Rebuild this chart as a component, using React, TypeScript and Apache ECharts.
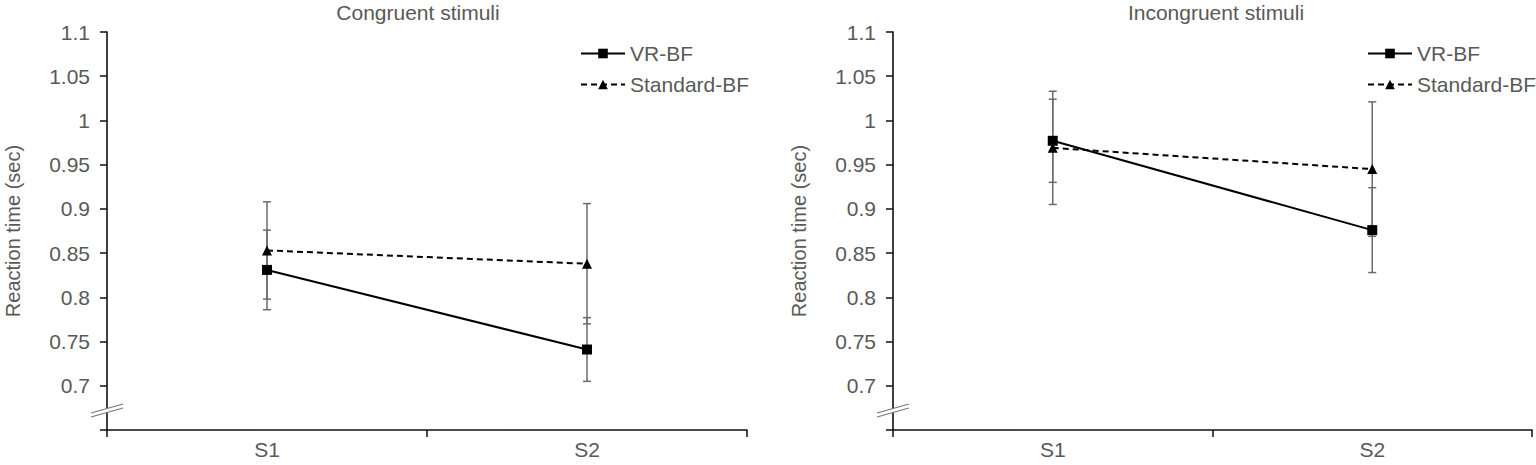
import React, { useEffect, useRef } from "react";
import * as echarts from "echarts";

const categories = ["S1", "S2"];
const seriesNames = ["VR-BF", "Standard-BF"];

// Congruent stimuli
const congruentVR = [0.831, 0.741];
const congruentVRErr = [0.045, 0.036];
const congruentStd = [0.853, 0.838];
const congruentStdErr = [0.055, 0.068];

// Incongruent stimuli
const incongruentVR = [0.977, 0.876];
const incongruentVRErr = [0.047, 0.048];
const incongruentStd = [0.969, 0.945];
const incongruentStdErr = [0.064, 0.076];

const panelTitles = ["Congruent stimuli", "Incongruent stimuli"];
const yName = "Reaction time (sec)";
const yMin = 0.65;
const yMax = 1.1;
const yStep = 0.05;

const FONT = "Liberation Sans, Arial, Helvetica, sans-serif";
const TEXT = "#595959";
const AXIS = "#111";
const ERR = "#6b6b6b";

const GRID_TOP = 32;
const GRID_H = 398;
const GRIDS = [
  { left: 107, width: 640 },
  { left: 893, width: 639 },
];

function errData(vals: number[], errs: number[]) {
  return vals.map((v, i) => [i, v - errs[i], v + errs[i]]);
}

export default function App() {
  const ref = useRef<HTMLDivElement>(null);

  useEffect(() => {
    document.body.style.margin = "0";
    if (!ref.current) return;
    const chart = echarts.init(ref.current, undefined, { renderer: "svg" });

    const panels = [
      { vr: congruentVR, vrE: congruentVRErr, sd: congruentStd, sdE: congruentStdErr },
      { vr: incongruentVR, vrE: incongruentVRErr, sd: incongruentStd, sdE: incongruentStdErr },
    ];

    const errRender = (params: any, api: any) => {
      const x = api.value(0);
      const lo = api.value(1);
      const hi = api.value(2);
      const top = api.coord([x, hi]);
      const bot = api.coord([x, lo]);
      const w = 4;
      const st = { stroke: ERR, lineWidth: 1.5 };
      return {
        type: "group",
        children: [
          { type: "line", shape: { x1: top[0], y1: top[1], x2: bot[0], y2: bot[1] }, style: st },
          { type: "line", shape: { x1: top[0] - w, y1: top[1], x2: top[0] + w, y2: top[1] }, style: st },
          { type: "line", shape: { x1: bot[0] - w, y1: bot[1], x2: bot[0] + w, y2: bot[1] }, style: st },
        ],
      };
    };

    const series: any[] = [];
    panels.forEach((p, gi) => {
      series.push({
        type: "custom",
        name: "errVR" + gi,
        xAxisIndex: gi,
        yAxisIndex: gi,
        renderItem: errRender,
        encode: { x: 0, y: [1, 2] },
        data: errData(p.vr, p.vrE),
        z: 1,
        silent: true,
      });
      series.push({
        type: "custom",
        name: "errSD" + gi,
        xAxisIndex: gi,
        yAxisIndex: gi,
        renderItem: errRender,
        encode: { x: 0, y: [1, 2] },
        data: errData(p.sd, p.sdE),
        z: 1,
        silent: true,
      });
      series.push({
        type: "line",
        name: seriesNames[0],
        xAxisIndex: gi,
        yAxisIndex: gi,
        data: p.vr,
        symbol: "rect",
        symbolSize: 10,
        itemStyle: { color: "#000" },
        lineStyle: { color: "#000", width: 2, type: "solid" },
        z: 3,
      });
      series.push({
        type: "line",
        name: seriesNames[1],
        xAxisIndex: gi,
        yAxisIndex: gi,
        data: p.sd,
        symbol: "triangle",
        symbolSize: 10,
        itemStyle: { color: "#000" },
        lineStyle: { color: "#000", width: 2, type: [6, 4] },
        z: 3,
      });
    });

    const yFormatter = (v: number) => {
      if (Math.abs(v - yMin) < 1e-6) return "";
      return String(parseFloat(v.toFixed(2)));
    };

    const graphic: any[] = [];
    GRIDS.forEach((g, gi) => {
      graphic.push({
        type: "text",
        x: gi === 0 ? 418 : 1216,
        y: 12,
        style: {
          text: panelTitles[gi],
          fill: TEXT,
          font: `21px ${FONT}`,
          textAlign: "center",
          textVerticalAlign: "middle",
        },
      });
      const x0 = g.left;
      graphic.push({
        type: "polygon",
        shape: { points: [[x0 - 16, 413], [x0 + 16, 404], [x0 + 16, 408], [x0 - 16, 417]] },
        style: { fill: "#fff" },
        z: 100,
      });
      graphic.push({
        type: "line",
        shape: { x1: x0 - 16, y1: 413, x2: x0 + 16, y2: 404 },
        style: { stroke: "#777", lineWidth: 1.2 },
        z: 101,
      });
      graphic.push({
        type: "line",
        shape: { x1: x0 - 16, y1: 417, x2: x0 + 16, y2: 408 },
        style: { stroke: "#777", lineWidth: 1.2 },
        z: 101,
      });
    });

    chart.setOption({
      animation: false,
      backgroundColor: "#fff",
      textStyle: { fontFamily: FONT },
      grid: GRIDS.map((g) => ({ left: g.left, width: g.width, top: GRID_TOP, height: GRID_H })),
      xAxis: GRIDS.map((g, gi) => ({
        type: "category",
        gridIndex: gi,
        data: categories,
        boundaryGap: true,
        axisLine: { lineStyle: { color: AXIS, width: 1.6 } },
        axisTick: { show: true, length: 7, interval: 0, lineStyle: { color: AXIS, width: 1.5 } },
        axisLabel: { color: TEXT, fontSize: 21, margin: 9, fontFamily: FONT },
        splitLine: { show: false },
      })),
      yAxis: GRIDS.map((g, gi) => ({
        type: "value",
        gridIndex: gi,
        min: yMin,
        max: yMax,
        interval: yStep,
        name: yName,
        nameLocation: "middle",
        nameGap: 84,
        nameRotate: 90,
        nameTextStyle: { color: TEXT, fontSize: 20, fontFamily: FONT },
        axisLine: { show: true, lineStyle: { color: AXIS, width: 1.6 } },
        axisTick: { show: true, length: 7, lineStyle: { color: AXIS, width: 1.5 } },
        axisLabel: { color: TEXT, fontSize: 21, margin: 17, formatter: yFormatter, fontFamily: FONT },
        splitLine: { show: false },
      })),
      legend: [
        { left: 575, top: 38 },
        { left: 1362, top: 38 },
      ].map((l) => ({
        ...l,
        orient: "vertical",
        data: seriesNames,
        itemWidth: 44,
        itemHeight: 12,
        itemGap: 10,
        textStyle: { color: TEXT, fontSize: 21, lineHeight: 21, fontFamily: FONT },
        selectedMode: false,
      })),
      graphic,
      series,
    });

    return () => chart.dispose();
  }, []);

  return <div ref={ref} style={{ width: "1536px", height: "465px" }} />;
}
